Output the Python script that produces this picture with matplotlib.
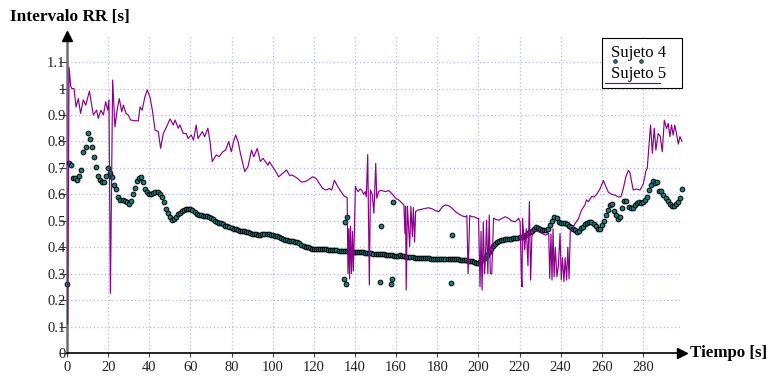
import numpy as np
import matplotlib
matplotlib.use("Agg")
import matplotlib.pyplot as plt
from matplotlib.lines import Line2D
from matplotlib.patches import Rectangle

plt.rcParams["font.family"] = ["Liberation Serif", "DejaVu Serif"]

# ---- Sujeto 4: RR interval sampled every second (0 .. 299 s) ----
s4_rr = [
    0.26, 0.72, 0.71, 0.66, 0.66, 0.655, 0.67, 0.69, 0.76, 0.78,
    0.83, 0.81, 0.78, 0.74, 0.705, 0.67, 0.655, 0.645, 0.645, 0.67,
    0.70, 0.68, 0.665, 0.635, 0.62, 0.59, 0.58, 0.578, 0.575, 0.57,
    0.565, 0.575, 0.60, 0.625, 0.65, 0.66, 0.665, 0.645, 0.62, 0.607,
    0.603, 0.60, 0.605, 0.61, 0.607, 0.603, 0.59, 0.57, 0.545, 0.53,
    0.515, 0.503, 0.505, 0.515, 0.525, 0.53, 0.537, 0.541, 0.543, 0.545,
    0.544, 0.539, 0.532, 0.527, 0.523, 0.52, 0.518, 0.519, 0.517, 0.516,
    0.51, 0.505, 0.498, 0.495, 0.493, 0.49, 0.488, 0.482, 0.479, 0.477,
    0.473, 0.47, 0.468, 0.465, 0.462, 0.463, 0.461, 0.458, 0.456, 0.453,
    0.45, 0.45, 0.449, 0.447, 0.446, 0.449, 0.45, 0.45, 0.449, 0.447,
    0.446, 0.444, 0.442, 0.438, 0.433, 0.43, 0.428, 0.426, 0.425, 0.424,
    0.422, 0.42, 0.418, 0.417, 0.41, 0.405, 0.401, 0.399, 0.397, 0.395,
    0.395, 0.395, 0.394, 0.394, 0.393, 0.392, 0.392, 0.391, 0.390, 0.389,
    0.389, 0.388, 0.387, 0.386, 0.386, 0.385, 0.385, 0.384, 0.383, 0.383,
    0.382, 0.382, 0.381, 0.381, 0.380, 0.379, 0.378, 0.377, 0.377, 0.376,
    0.375, 0.374, 0.374, 0.373, 0.373, 0.372, 0.371, 0.370, 0.369, 0.368,
    0.368, 0.367, 0.370, 0.366, 0.365, 0.364, 0.363, 0.362, 0.362, 0.361,
    0.361, 0.360, 0.360, 0.359, 0.359, 0.358, 0.358, 0.357, 0.357, 0.357,
    0.356, 0.356, 0.356, 0.356, 0.355, 0.355, 0.355, 0.355, 0.355, 0.354,
    0.354, 0.353, 0.352, 0.351, 0.350, 0.349, 0.348, 0.346, 0.344, 0.342,
    0.34, 0.345, 0.35, 0.36, 0.37, 0.382, 0.395, 0.405, 0.412, 0.42,
    0.425, 0.427, 0.428, 0.43, 0.43, 0.43, 0.432, 0.433, 0.434, 0.435,
    0.437, 0.44, 0.442, 0.447, 0.452, 0.458, 0.462, 0.468, 0.475, 0.474,
    0.47, 0.466, 0.465, 0.466, 0.47, 0.484, 0.50, 0.515, 0.51, 0.495,
    0.49, 0.49, 0.492, 0.488, 0.48, 0.475, 0.468, 0.465, 0.458, 0.462,
    0.471, 0.478, 0.486, 0.49, 0.496, 0.495, 0.488, 0.48, 0.47, 0.468,
    0.485, 0.50, 0.52, 0.54, 0.56, 0.565, 0.535, 0.52, 0.505, 0.515,
    0.55, 0.575, 0.575, 0.552, 0.55, 0.548, 0.56, 0.567, 0.572, 0.566,
    0.572, 0.578, 0.59, 0.615, 0.635, 0.652, 0.643, 0.648, 0.612, 0.614,
    0.598, 0.585, 0.575, 0.565, 0.556, 0.555, 0.563, 0.57, 0.585, 0.62,
]
s4_time = np.arange(len(s4_rr), dtype=float)

# isolated ectopic / artefact beats of Sujeto 4
s4_out_time = [134.8, 135.3, 135.6, 135.9, 152.2, 152.5, 157.3, 157.8, 158.3, 186.5, 187.0]
s4_out_rr = [0.279, 0.496, 0.26, 0.515, 0.27, 0.48, 0.26, 0.28, 0.57, 0.265, 0.446]

# ---- Sujeto 5: RR interval (irregular beat times) ----
s5_time = [
    0.3, 1.0, 1.8, 2.3, 3.4, 4.4, 5.5, 6.6, 7.9, 9.1,
    10.9, 12.0, 12.8, 14.4, 15.2, 16.5, 17.7, 18.8, 19.8, 20.4,
    21.1, 22.2, 23.3, 24.5, 25.4, 26.6, 27.4, 28.7, 29.8, 30.9,
    33.0, 34.7, 35.5, 36.5, 37.9, 39.0, 40.3, 41.5, 42.8, 44.4,
    45.5, 46.8, 48.4, 50.1, 51.7, 52.5, 54.1, 54.9, 56.5, 58.0,
    58.8, 60.4, 61.5, 62.8, 63.7, 65.8, 66.9, 68.5, 69.5, 70.6,
    72.6, 73.9, 75.8, 77.1, 78.6, 79.9, 81.0, 82.0, 83.2, 84.3,
    86.4, 88.0, 89.7, 90.8, 92.5, 94.0, 95.3, 96.4, 97.7, 98.4,
    100.0, 101.6, 102.9, 104.8, 106.8, 108.1, 109.7, 112.1, 113.8, 115.4,
    117.0, 119.4, 121.1, 122.7, 124.3, 125.9, 127.6, 128.7, 130.0, 131.3,
    133.2, 134.8, 136.2, 136.6, 137.0, 137.4, 137.8, 138.3, 138.8, 139.2,
    139.7, 140.2, 140.8, 141.5, 142.5, 143.3, 144.2, 145.0, 145.5, 146.2,
    147.0, 147.5, 148.4, 149.2, 150.1, 150.6, 151.5, 152.5, 154.9, 156.5,
    157.9, 159.8, 161.4, 163.0, 163.8, 164.3, 164.6, 164.9, 165.5, 166.6,
    167.2, 167.9, 168.4, 169.0, 169.5, 170.5, 172.7, 174.3, 175.9, 177.5,
    179.2, 180.8, 182.5, 184.1, 185.7, 187.3, 188.9, 190.6, 192.2, 193.8,
    194.4, 195.0, 195.8, 196.9, 198.1, 199.3, 200.1, 200.8, 201.3, 201.8,
    202.4, 203.0, 203.4, 204.0, 204.6, 205.3, 205.8, 206.5, 207.4, 208.5,
    209.9, 211.5, 213.1, 214.7, 216.3, 217.9, 219.6, 220.3, 220.9, 221.2,
    221.5, 222.5, 223.3, 224.1, 224.8, 225.4, 226.0, 226.9, 228.0, 229.3,
    231.0, 232.6, 234.2, 234.7, 235.3, 235.8, 236.3, 236.8, 237.4, 238.2,
    238.9, 239.7, 240.3, 240.9, 241.6, 242.2, 242.9, 243.5, 244.1, 244.7,
    245.3, 246.9, 248.6, 250.2, 251.8, 252.6, 253.5, 255.1, 256.3, 257.5,
    259.1, 260.8, 262.1, 263.2, 264.8, 266.4, 268.1, 269.3, 270.4, 271.7,
    272.9, 273.6, 274.5, 275.3, 276.9, 278.6, 280.2, 281.5, 282.1, 282.9,
    283.7, 284.6, 285.5, 286.3, 287.4, 288.4, 289.4, 290.4, 291.5, 292.3,
    293.1, 293.9, 294.7, 295.5, 296.3, 297.2, 298.0, 299.0,
]
s5_rr = [
    0.11, 1.08, 1.01, 1.0, 1.0, 0.93, 0.962, 0.906, 0.957, 0.937,
    0.99, 0.937, 0.90, 0.918, 0.887, 0.918, 0.90, 0.95, 0.918, 0.957,
    0.226, 1.032, 0.855, 0.925, 0.962, 0.912, 0.937, 0.906, 0.90, 0.881,
    0.878, 0.878, 0.93, 0.918, 0.969, 0.994, 0.969, 0.918, 0.843, 0.837,
    0.774, 0.83, 0.855, 0.885, 0.862, 0.881, 0.85, 0.862, 0.83, 0.83,
    0.811, 0.824, 0.805, 0.862, 0.811, 0.837, 0.818, 0.85, 0.80, 0.724,
    0.749, 0.742, 0.761, 0.767, 0.799, 0.761, 0.80, 0.824, 0.799, 0.755,
    0.686, 0.705, 0.767, 0.742, 0.773, 0.724, 0.736, 0.724, 0.71, 0.723,
    0.704, 0.685, 0.666, 0.679, 0.692, 0.672, 0.672, 0.66, 0.647, 0.647,
    0.653, 0.666, 0.66, 0.641, 0.622, 0.616, 0.622, 0.616, 0.653, 0.634,
    0.61, 0.593, 0.588, 0.30, 0.47, 0.28, 0.48, 0.30, 0.46, 0.31,
    0.45, 0.63, 0.62, 0.61, 0.62, 0.615, 0.60, 0.61, 0.59, 0.75,
    0.257, 0.616, 0.60, 0.528, 0.717, 0.585, 0.61, 0.615, 0.61, 0.614,
    0.603, 0.585, 0.578, 0.566, 0.56, 0.452, 0.555, 0.238, 0.555, 0.402,
    0.555, 0.44, 0.55, 0.42, 0.535, 0.54, 0.544, 0.547, 0.549, 0.545,
    0.538, 0.534, 0.553, 0.56, 0.556, 0.547, 0.534, 0.525, 0.518, 0.515,
    0.52, 0.30, 0.52, 0.515, 0.515, 0.509, 0.51, 0.25, 0.46, 0.238,
    0.496, 0.30, 0.35, 0.502, 0.30, 0.522, 0.30, 0.30, 0.51, 0.505,
    0.502, 0.509, 0.515, 0.509, 0.499, 0.496, 0.509, 0.496, 0.288, 0.25,
    0.509, 0.39, 0.47, 0.33, 0.572, 0.276, 0.44, 0.462, 0.462, 0.458,
    0.452, 0.446, 0.452, 0.282, 0.45, 0.276, 0.47, 0.288, 0.40, 0.288,
    0.33, 0.452, 0.276, 0.36, 0.27, 0.36, 0.276, 0.40, 0.28, 0.465,
    0.462, 0.488, 0.507, 0.541, 0.56, 0.579, 0.572, 0.592, 0.59, 0.60,
    0.62, 0.652, 0.627, 0.608, 0.60, 0.597, 0.59, 0.59, 0.62, 0.666,
    0.69, 0.684, 0.648, 0.616, 0.62, 0.616, 0.64, 0.69, 0.698, 0.78,
    0.862, 0.755, 0.85, 0.767, 0.83, 0.82, 0.761, 0.88, 0.849, 0.868,
    0.818, 0.862, 0.824, 0.862, 0.83, 0.79, 0.818, 0.80,
]

x_ticks = list(range(0, 281, 20))
y_ticks = [0, 0.1, 0.2, 0.3, 0.4, 0.5, 0.6, 0.7, 0.8, 0.9, 1.0, 1.1]

PURPLE = "#8b008b"
TEAL = "#137f80"
GRID = "#b4b4f4"

W, H = 767, 377
fig = plt.figure(figsize=(W / 100, H / 100), dpi=100)
ax = fig.add_axes([67 / W, 1 - 353 / H, 615 / W, 317.4 / H])

ax.plot(np.concatenate([s4_time, s4_out_time]), np.concatenate([s4_rr, s4_out_rr]),
        linestyle="none", marker="o", markersize=3.4, markerfacecolor=TEAL,
        markeredgecolor="black", markeredgewidth=0.7, zorder=3, clip_on=False)
ax.plot(s5_time, s5_rr, color=PURPLE, linewidth=0.85, zorder=4, clip_on=False)

ax.set_xlim(0, 299)
ax.set_ylim(0, 1.2)
ax.set_xticks(x_ticks)
ax.set_yticks(y_ticks)
ax.set_yticklabels([f"{v:g}" for v in y_ticks])
ax.grid(True, color=GRID, linestyle=(0, (1, 2)), linewidth=0.9)
ax.set_axisbelow(True)

for side in ("top", "right"):
    ax.spines[side].set_visible(False)
ax.spines["left"].set_color("#6e6e6e")
ax.spines["left"].set_linewidth(1.8)
ax.spines["bottom"].set_color("black")
ax.spines["bottom"].set_linewidth(1.2)

ax.tick_params(axis="y", direction="out", length=6, width=0.8, color="#444444",
               pad=-5, labelsize=10.5, labelcolor="#222222")
ax.tick_params(axis="x", direction="out", length=3, width=0.8, color="#444444",
               pad=3, labelsize=10.5, labelcolor="#222222")

# axis arrow heads
ax.plot([0], [1], marker="^", markersize=7, color="black",
        transform=ax.transAxes, clip_on=False, zorder=6)
ax.plot([1.0], [0], marker=">", markersize=7, color="black",
        transform=ax.transAxes, clip_on=False, zorder=6)

fig.text(10 / W, 1 - 17 / H, "Intervalo RR [s]", fontsize=12.4, fontweight="bold",
         ha="left", va="center")
fig.text(690 / W, 1 - 353 / H, "Tiempo [s]", fontsize=12.2, fontweight="bold",
         ha="left", va="center")

# legend box
fig.patches.append(Rectangle((602 / W, 1 - 88 / H), 80 / W, 50 / H,
                             transform=fig.transFigure, facecolor="white",
                             edgecolor="black", linewidth=0.8, zorder=7))
fig.text(611 / W, 1 - 53 / H, "Sujeto 4", fontsize=12, ha="left", va="center", zorder=8)
fig.text(611 / W, 1 - 74 / H, "Sujeto 5", fontsize=12, ha="left", va="center", zorder=8)
fig.lines.append(Line2D([615 / W, 641 / W], [1 - 61 / H, 1 - 61 / H],
                        transform=fig.transFigure, linestyle="none", marker="o",
                        markersize=2.6, markerfacecolor=TEAL, markeredgecolor="black",
                        markeredgewidth=0.5, zorder=9))
fig.lines.append(Line2D([605 / W, 660 / W], [1 - 83 / H, 1 - 83 / H],
                        transform=fig.transFigure, color=PURPLE, linewidth=0.85, zorder=9))

fig.savefig("out.png", dpi=100)
